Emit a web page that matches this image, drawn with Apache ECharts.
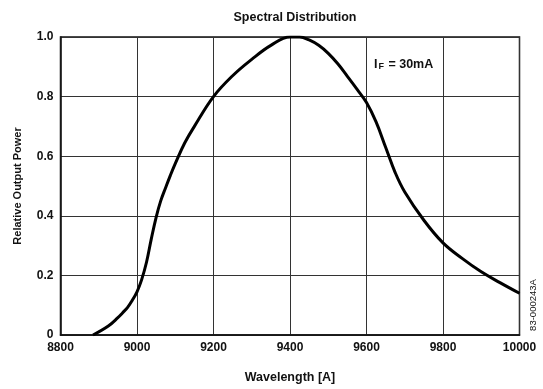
<!DOCTYPE html>
<html>
<head>
<meta charset="utf-8">
<script src="https://cdn.jsdelivr.net/npm/echarts@6/dist/echarts.min.js"></script>
<style>html,body{margin:0;padding:0;background:#fff;}#c{width:543px;height:389px;}</style>
</head>
<body>
<div id="c"></div>
<script>
const wavelength = [8885, 8925, 8950, 8962, 8975, 8987, 9000, 9012, 9025, 9037, 9050, 9062, 9075, 9087, 9100, 9125, 9150, 9200, 9250, 9300, 9350, 9400, 9425, 9450, 9475, 9500, 9525, 9550, 9575, 9600, 9625, 9650, 9675, 9700, 9750, 9800, 9850, 9900, 9950, 10000];
const power = [0, 0.03, 0.058, 0.074, 0.092, 0.115, 0.145, 0.185, 0.245, 0.32, 0.395, 0.45, 0.495, 0.535, 0.575, 0.645, 0.70, 0.80, 0.87, 0.925, 0.972, 1.0, 1.0, 0.99, 0.972, 0.945, 0.91, 0.868, 0.825, 0.78, 0.715, 0.63, 0.545, 0.48, 0.385, 0.309, 0.257, 0.212, 0.175, 0.14];
const xTicks = [8800, 9000, 9200, 9400, 9600, 9800, 10000];
const yTicks = [0, 0.2, 0.4, 0.6, 0.8, 1.0];

const FONT = '"Liberation Sans", Arial, Helvetica, sans-serif';
const chart = echarts.init(document.getElementById('c'), null, {renderer: 'canvas'});
chart.setOption({
  animation: false,
  backgroundColor: '#fff',
  title: {
    text: 'Spectral Distribution',
    left: 290, top: 6, textAlign: 'center',
    textStyle: {fontFamily: FONT, fontWeight: 'bold', fontSize: 12.5, color: '#111'}
  },
  grid: {left: 60.5, right: 23.5, top: 37, bottom: 46, show: true, borderColor: '#111', borderWidth: 1.5},
  xAxis: {
    type: 'value', min: xTicks[0], max: xTicks[xTicks.length - 1], interval: 200,
    name: 'Wavelength [A]', nameLocation: 'middle', nameGap: 36,
    nameTextStyle: {fontFamily: FONT, fontWeight: 'bold', fontSize: 12.5, color: '#111'},
    axisLine: {show: true, lineStyle: {color: '#111', width: 1.5}},
    axisTick: {show: false},
    axisLabel: {fontFamily: FONT, fontWeight: 'bold', fontSize: 12, color: '#111', margin: 7,
      formatter: v => xTicks.includes(v) ? String(v) : ''},
    splitLine: {show: true, lineStyle: {color: '#333', width: 1}}
  },
  yAxis: {
    type: 'value', min: 0, max: 1, interval: 0.2,
    name: 'Relative Output Power', nameLocation: 'middle', nameGap: 37,
    nameTextStyle: {fontFamily: FONT, fontWeight: 'bold', fontSize: 11, color: '#111'},
    axisLine: {show: true, lineStyle: {color: '#111', width: 1.5}},
    axisTick: {show: false},
    axisLabel: {fontFamily: FONT, fontWeight: 'bold', fontSize: 12, color: '#111', margin: 7,
      formatter: v => { const t = yTicks.find(y => Math.abs(y - v) < 1e-6); return t === undefined ? '' : (t === 0 ? '0' : t.toFixed(1)); }},
    splitLine: {show: true, lineStyle: {color: '#333', width: 1}}
  },
  graphic: [
    {
      type: 'text', left: 374, top: 58,
      style: {
        text: '{i|I}{s|F}{i| = 30mA}',
        rich: {
          i: {fontFamily: FONT, fontWeight: 'bold', fontSize: 12.5, fill: '#111', verticalAlign: 'bottom'},
          s: {fontFamily: FONT, fontWeight: 'bold', fontSize: 9, fill: '#111', padding: [5, 1, 0, 1], verticalAlign: 'bottom'}
        }
      }
    },
    {
      type: 'text', x: 533, y: 305, rotation: Math.PI / 2,
      style: {text: '83-000243A', fontFamily: FONT, fontSize: 9.5, fill: '#111', align: 'center', verticalAlign: 'middle'}
    }
  ],
  series: [{
    type: 'line',
    data: wavelength.map((w, i) => [w, power[i]]),
    smooth: 0.4,
    showSymbol: false,
    lineStyle: {color: '#000', width: 3},
    clip: true
  }]
});
</script>
</body>
</html>
